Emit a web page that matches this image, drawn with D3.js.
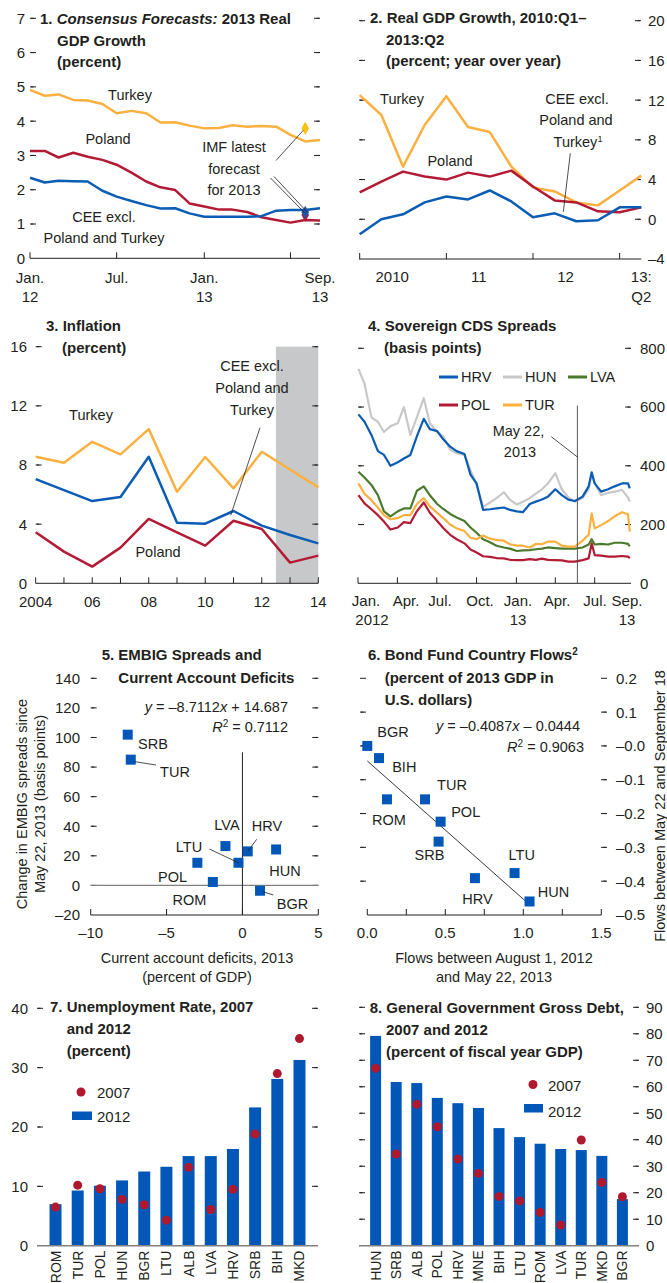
<!DOCTYPE html>
<html><head><meta charset="utf-8">
<script src="https://cdn.jsdelivr.net/npm/d3@7"></script>
<style>
body{margin:0;background:#fff}
text{font-family:"Liberation Sans",Arial,sans-serif;fill:#231f20}
</style></head><body>
<script>
// ================= DATA =================
// Panel 1: Consensus Forecasts, 2013 real GDP growth (percent)
const p1Months = ["2012-01","2012-02","2012-03","2012-04","2012-05","2012-06","2012-07","2012-08","2012-09","2012-10","2012-11","2012-12","2013-01","2013-02","2013-03","2013-04","2013-05","2013-06","2013-07","2013-08","2013-09"];
const p1Turkey = [4.91,4.74,4.78,4.62,4.60,4.50,4.23,4.30,4.23,3.96,3.97,3.87,3.79,3.80,3.88,3.84,3.86,3.84,3.60,3.41,3.45];
const p1Poland = [3.13,3.13,2.94,3.08,2.96,2.87,2.73,2.50,2.24,2.07,1.99,1.60,1.51,1.42,1.42,1.35,1.20,1.12,1.04,1.12,1.10];
const p1CEE    = [2.35,2.21,2.26,2.25,2.24,1.97,1.80,1.67,1.55,1.45,1.46,1.31,1.21,1.21,1.21,1.21,1.23,1.39,1.41,1.41,1.46];
const p1ImfMonth = "2013-08";
const p1ImfSeries = ["Turkey","CEE","Poland"];
const p1ImfValues = [3.79,1.34,1.26];
const p1XTicks = ["2012-01","2012-07","2013-01","2013-07"];
const p1XLabels = [["2012-01","Jan.","12"],["2012-07","Jul.",""],["2013-01","Jan.","13"],["2013-09","Sep.","13"]];

// Panel 2: Real GDP growth, 2010:Q1-2013:Q2 (percent, y/y)
const p2Quarters = ["2010:Q1","2010:Q2","2010:Q3","2010:Q4","2011:Q1","2011:Q2","2011:Q3","2011:Q4","2012:Q1","2012:Q2","2012:Q3","2012:Q4","2013:Q1","2013:Q2"];
const p2Turkey = [12.5,10.5,5.3,9.5,12.4,9.3,8.8,5.3,3.2,2.8,1.7,1.4,2.9,4.4];
const p2Poland = [2.7,3.8,4.8,4.3,4.0,4.7,4.3,4.9,3.3,1.9,1.7,0.8,0.7,1.2];
const p2CEE    = [-1.5,0.0,0.5,1.7,2.3,2.0,2.9,1.8,0.2,0.6,-0.2,-0.1,1.2,1.2];

// Panel 3: Inflation (percent)
const p3Years  = [2004,2005,2006,2007,2008,2009,2010,2011,2012,2013,2014];
const p3Turkey = [8.56,8.15,9.57,8.72,10.43,6.19,8.54,6.42,8.90,7.70,6.49];
const p3CEE    = [7.05,6.30,5.56,5.83,8.56,4.10,4.03,4.89,3.90,3.27,2.70];
const p3Poland = [3.45,2.14,1.13,2.41,4.35,3.45,2.55,4.23,3.67,1.40,1.87];
const p3ProjStart = 2012.5;
const p3XLabels = [[2004,"2004"],[2006,"06"],[2008,"08"],[2010,"10"],[2012,"12"],[2014,"14"]];

// Panel 4: Sovereign CDS spreads (basis points)
const p4Dates = ["2012-01-02","2012-01-16","2012-02-01","2012-02-16","2012-03-01","2012-03-16","2012-04-02","2012-04-16","2012-05-01","2012-05-16","2012-06-01","2012-06-15","2012-07-02","2012-07-16","2012-08-01","2012-08-16","2012-09-03","2012-09-17","2012-10-01","2012-10-16","2012-11-01","2012-11-16","2012-12-03","2012-12-17","2013-01-02","2013-01-16","2013-02-01","2013-02-15","2013-03-01","2013-03-15","2013-04-01","2013-04-16","2013-05-01","2013-05-16","2013-06-03","2013-06-17","2013-06-24","2013-07-01","2013-07-16","2013-08-01","2013-08-16","2013-09-02","2013-09-16","2013-09-20"];
const p4HUN = [730,680,565,550,515,535,545,600,505,565,630,545,515,500,455,443,437,385,335,260,275,290,310,285,268,278,290,305,320,340,375,320,292,278,290,320,372,340,300,308,312,318,292,278];
const p4HRV = [575,550,505,450,437,400,412,425,437,500,560,525,518,490,465,450,440,370,340,250,252,255,258,250,245,242,270,278,285,295,320,300,285,280,295,330,378,340,312,320,330,340,340,323];
const p4LVA = [380,360,335,300,245,228,245,255,255,315,330,300,270,253,236,224,212,190,172,150,140,128,122,118,110,112,113,116,118,122,120,118,118,118,122,132,150,132,134,132,138,138,134,126];
const p4TUR = [340,305,283,258,232,218,222,232,232,270,290,262,240,222,200,187,178,155,150,163,152,148,145,133,128,128,122,134,133,142,142,128,125,125,145,165,238,187,198,212,228,242,235,176];
const p4POL = [300,272,252,232,210,183,190,208,205,245,275,240,212,188,165,150,136,115,105,92,90,86,85,80,79,79,82,80,84,80,79,78,74,74,79,85,136,96,94,91,91,93,91,85];
const p4Event = "2013-05-22";
const p4XTicks = ["2012-01-01","2012-04-01","2012-07-01","2012-10-01","2013-01-01","2013-04-01","2013-07-01"];

// Panel 5: EMBIG spreads vs current account deficits
const p5Countries = ["SRB","TUR","LVA","HRV","HUN","LTU","POL","ROM","BGR"];
const p5CAdeficit = [-7.56,-7.36,-1.12,0.35,2.22,-0.26,-2.97,-1.95,1.16];
const p5EmbigChange = [101.9,85.0,26.6,23.0,24.3,15.3,15.3,2.3,-3.6];

// Panel 6: Bond fund country flows
const p6Countries = ["BGR","BIH","ROM","TUR","POL","SRB","HRV","LTU","HUN"];
const p6FlowsBefore = [0.00,0.075,0.126,0.37,0.47,0.457,0.69,0.944,1.04];
const p6FlowsAfter  = [0.00,-0.036,-0.158,-0.158,-0.224,-0.283,-0.391,-0.376,-0.46];
const p6FitSlope = -0.4087, p6FitIntercept = -0.0444, p6FitRange = [0, 1.05];

// Panel 7: Unemployment rate
const p7Countries = ["ROM","TUR","POL","HUN","BGR","LTU","ALB","LVA","HRV","SRB","BIH","MKD"];
const p7Y2012 = [7.0,9.3,10.1,11.0,12.5,13.3,15.1,15.1,16.3,23.3,28.1,31.3];
const p7Y2007 = [6.5,10.2,9.6,7.8,6.9,4.3,13.2,6.1,9.5,18.8,29.0,34.9];

// Panel 8: General government gross debt
const p8Countries = ["HUN","SRB","ALB","POL","HRV","MNE","BIH","LTU","ROM","LVA","TUR","MKD","BGR"];
const p8Y2012 = [79.2,61.8,61.4,55.8,53.8,52.0,44.4,41.0,38.5,36.5,36.1,33.9,17.6];
const p8Y2007 = [67.0,34.6,53.4,44.9,32.7,27.3,18.6,16.9,12.6,7.8,39.9,23.9,18.5];

// ================= STYLE =================
const C = {text:"#231f20", blue:"#0b5cb5", red:"#b31b34", yellow:"#fbb040", gray:"#c8c8c8",
           green:"#4a7a2c", bar:"#0057b8", dot:"#b0182e", shade:"#c7c8ca", axisGray:"#808080",
           imfYellow:"#f9c20f", imfBlue:"#1f55a6"};
const TICK_FS = 15, LAB_FS = 14.5, TITLE_FS = 15, ROT_FS = 14;

const svg = d3.select("body").append("svg").attr("width",667).attr("height",1283);

// ================= HELPERS =================
function txt(g, x, y, s, o = {}) {
  const t = g.append("text").attr("x", x).attr("y", y).text(s)
    .style("font-size", (o.size || LAB_FS) + "px");
  if (o.anchor) t.attr("text-anchor", o.anchor);
  if (o.weight) t.style("font-weight", o.weight);
  if (o.style) t.style("font-style", o.style);
  if (o.rotate !== undefined) t.attr("transform", `rotate(${o.rotate},${x},${y})`);
  return t;
}
function lines(g, x, y, arr, lh, o = {}) { arr.forEach((s, i) => txt(g, x, y + i * lh, s, o)); }
function title(g, x, indentX, y, parts, lh) {
  parts.forEach((ln, i) => {
    const t = g.append("text").attr("x", i === 0 ? x : indentX).attr("y", y + i * lh)
      .style("font-size", TITLE_FS + "px").style("font-weight", "bold");
    const segs = typeof ln === "string" ? [[ln]] : ln;
    segs.forEach(sg => {
      const ts = t.append("tspan").text(sg[0]);
      if (sg[1] === "i") ts.style("font-style", "italic");
      if (sg[1] === "sup") ts.attr("baseline-shift", "super").style("font-size", "10px");
    });
  });
}
function vTicks(g, y, x, dir, majors, minors) {
  g.append("g").selectAll("line").data(majors).join("line")
    .attr("x1", x).attr("x2", x + dir * 6).attr("y1", d => y(d)).attr("y2", d => y(d))
    .attr("stroke", C.text).attr("stroke-width", 1);
  g.append("g").selectAll("line").data(minors).join("line")
    .attr("x1", x + dir * 1).attr("x2", x + dir * 3.5).attr("y1", d => y(d)).attr("y2", d => y(d))
    .attr("stroke", C.text).attr("stroke-width", 1);
}
function vLabels(g, y, x, anchor, vals, fmt) {
  g.append("g").selectAll("text").data(vals).join("text")
    .attr("x", x).attr("y", d => y(d)).attr("dy", "0.36em").attr("text-anchor", anchor)
    .style("font-size", TICK_FS + "px").text(fmt);
}
function hAxis(g, x0, x1, yv, ticksX, color = C.text, w = 1) {
  g.append("line").attr("x1", x0).attr("x2", x1).attr("y1", yv).attr("y2", yv)
    .attr("stroke", color).attr("stroke-width", w);
  g.append("g").selectAll("line").data(ticksX).join("line")
    .attr("x1", d => d).attr("x2", d => d).attr("y1", yv).attr("y2", yv - 6)
    .attr("stroke", color).attr("stroke-width", 1);
}
function leader(g, x1, y1, x2, y2) {
  g.append("line").attr("x1", x1).attr("y1", y1).attr("x2", x2).attr("y2", y2)
    .attr("stroke", C.text).attr("stroke-width", 0.8);
}
function path(g, data, x, y, color, w = 2.5) {
  g.append("path").datum(data).attr("fill", "none").attr("stroke", color)
    .attr("stroke-width", w).attr("stroke-linejoin", "round")
    .attr("d", d3.line().x(d => x(d[0])).y(d => y(d[1])));
}
const rng = (a, b, s) => d3.range(Math.round(a / s), Math.round(b / s) + 1).map(i => +(i * s).toFixed(6));
const dash = v => (v < 0 ? "\u2013" + Math.abs(v) : String(v));

// ================= PANEL 1 =================
{
  const g = svg.append("g");
  const pm = d3.timeParse("%Y-%m");
  const x = d3.scaleTime().domain([pm("2012-01"), pm("2013-09")]).range([30, 320]);
  const y = d3.scaleLinear().domain([0, 7]).range([258.3, 18.3]);
  vTicks(g, y, 30, 1, rng(1, 7, 1), rng(0.5, 6.5, 1));
  vTicks(g, y, 320, -1, rng(1, 7, 1), rng(0.5, 6.5, 1));
  vLabels(g, y, 25, "end", rng(0, 7, 1), d => d);
  hAxis(g, 30, 320, y(0), p1XTicks.map(d => x(pm(d))));
  p1XLabels.forEach(l => {
    txt(g, x(pm(l[0])), 283, l[1], {anchor: "middle", size: TICK_FS});
    if (l[2]) txt(g, x(pm(l[0])), 302, l[2], {anchor: "middle", size: TICK_FS});
  });
  path(g, p1Months.map((m, i) => [pm(m), p1Turkey[i]]), x, y, C.yellow);
  path(g, p1Months.map((m, i) => [pm(m), p1Poland[i]]), x, y, C.red);
  path(g, p1Months.map((m, i) => [pm(m), p1CEE[i]]), x, y, C.blue);
  const imfCol = {Turkey: C.imfYellow, CEE: C.imfBlue, Poland: C.red};
  [2, 1, 0].forEach(i => {
    g.append("path").attr("d", d3.symbol(d3.symbolDiamond, 50)())
      .attr("transform", `translate(${x(pm(p1ImfMonth))},${y(p1ImfValues[i])})`)
      .attr("fill", imfCol[p1ImfSeries[i]]);
  });
  const xi = x(pm(p1ImfMonth));
  leader(g, 276, 160.5, xi - 2, y(p1ImfValues[0]) + 2);
  leader(g, 270.5, 178, xi - 1, y(p1ImfValues[1]) + 0);
  leader(g, 274, 176.5, xi + 2, y(p1ImfValues[2]) - 3);
  title(g, 40, 57, 24, [[["1. "], ["Consensus Forecasts:", "i"], [" 2013 Real"]], "GDP Growth", "(percent)"], 21.5);
  txt(g, 130, 100, "Turkey", {anchor: "middle"});
  txt(g, 108, 144, "Poland", {anchor: "middle"});
  lines(g, 234, 152, ["IMF latest", "forecast", "for 2013"], 21.5, {anchor: "middle"});
  lines(g, 104, 222, ["CEE excl.", "Poland and Turkey"], 21, {anchor: "middle"});
}

// ================= PANEL 2 =================
{
  const g = svg.append("g");
  const x = d3.scaleLinear().domain([0, 13]).range([359.7, 641.3]);
  const y = d3.scaleLinear().domain([-4, 20]).range([259, 20.7]);
  vTicks(g, y, 359, 1, rng(0, 20, 4), rng(-2, 18, 4));
  vTicks(g, y, 641, -1, rng(0, 20, 4), rng(-2, 18, 4));
  vLabels(g, y, 648, "start", rng(-4, 20, 4), dash);
  hAxis(g, 359, 641.3, y(-4), [0, 4, 8, 12].map(x));
  [[1.5, "2010"], [5.5, "11"], [9.5, "12"]].forEach(l => txt(g, x(l[0]), 282, l[1], {anchor: "middle", size: TICK_FS}));
  txt(g, x(13), 282, "13:", {anchor: "middle", size: TICK_FS});
  txt(g, x(13), 302, "Q2", {anchor: "middle", size: TICK_FS});
  path(g, p2Quarters.map((q, i) => [i, p2Turkey[i]]), x, y, C.yellow);
  path(g, p2Quarters.map((q, i) => [i, p2Poland[i]]), x, y, C.red);
  path(g, p2Quarters.map((q, i) => [i, p2CEE[i]]), x, y, C.blue);
  title(g, 370, 386, 23, ["2. Real GDP Growth, 2010:Q1\u2013", "2013:Q2", "(percent; year over year)"], 21.5);
  txt(g, 402, 104, "Turkey", {anchor: "middle"});
  txt(g, 450, 166, "Poland", {anchor: "middle"});
  txt(g, 577, 104, "CEE excl.", {anchor: "middle"});
  txt(g, 576, 125, "Poland and", {anchor: "middle"});
  const t = txt(g, 578, 147, "Turkey", {anchor: "middle"});
  t.append("tspan").text("1").attr("baseline-shift", "super").style("font-size", "9px");
  leader(g, 570.3, 153.3, x(9.4), y(0.75));
}

// ================= PANEL 3 =================
{
  const g = svg.append("g");
  const x = d3.scaleLinear().domain([2004, 2014]).range([35.7, 318.3]);
  const y = d3.scaleLinear().domain([0, 16]).range([583.3, 346.7]);
  g.append("rect").attr("x", x(p3ProjStart)).attr("y", y(16))
    .attr("width", x(2014) - x(p3ProjStart)).attr("height", y(0) - y(16)).attr("fill", C.shade);
  vTicks(g, y, 35.7, 1, rng(4, 16, 4), rng(2, 14, 4));
  vTicks(g, y, 318.3, -1, rng(4, 16, 4), rng(2, 14, 4));
  vLabels(g, y, 27, "end", rng(0, 16, 4), d => d);
  hAxis(g, 35.7, 318.3, y(0), p3Years.map(x));
  p3XLabels.forEach(l => txt(g, x(l[0]), 607, l[1], {anchor: "middle", size: TICK_FS}));
  path(g, p3Years.map((d, i) => [d, p3Turkey[i]]), x, y, C.yellow);
  path(g, p3Years.map((d, i) => [d, p3CEE[i]]), x, y, C.blue);
  path(g, p3Years.map((d, i) => [d, p3Poland[i]]), x, y, C.red);
  title(g, 46, 62, 331, ["3. Inflation", "(percent)"], 22);
  txt(g, 91, 420, "Turkey", {anchor: "middle"});
  txt(g, 158, 557, "Poland", {anchor: "middle"});
  lines(g, 252, 371, ["CEE excl.", "Poland and", "Turkey"], 22, {anchor: "middle"});
  leader(g, 260, 427.7, x(2010.9), y(4.6));
}

// ================= PANEL 4 =================
{
  const g = svg.append("g");
  const pd = d3.timeParse("%Y-%m-%d");
  const x = d3.scaleTime().domain([pd("2012-01-01"), pd("2013-07-01")]).range([358, 594.7]);
  const y = d3.scaleLinear().domain([0, 800]).range([583.3, 348.3]);
  const xEnd = 631;
  vTicks(g, y, 358, 1, rng(200, 800, 200), rng(100, 700, 200));
  vTicks(g, y, xEnd, -1, rng(200, 800, 200), rng(100, 700, 200));
  vLabels(g, y, 640, "start", rng(0, 800, 200), d => d);
  hAxis(g, 358, xEnd, y(0), p4XTicks.map(d => x(pd(d))));
  const xl = [[366, "Jan.", "2012"], [406, "Apr.", ""], [440, "Jul.", ""], [480, "Oct.", ""], [518, "Jan.", "13"], [557, "Apr.", ""], [595, "Jul.", ""], [627, "Sep.", "13"]];
  xl.forEach(l => {
    txt(g, l[0], 606, l[1], {anchor: "middle", size: TICK_FS});
    if (l[2]) txt(g, l[0] + (l[2] === "2012" ? 6 : 0), 625, l[2], {anchor: "middle", size: TICK_FS});
  });
  const ser = [[p4HUN, C.gray], [p4HRV, C.blue], [p4LVA, C.green], [p4TUR, C.yellow], [p4POL, C.red]];
  ser.forEach(s => path(g, p4Dates.map((d, i) => [pd(d), s[0][i]]), x, y, s[1], 2.2));
  const ex = x(pd(p4Event));
  g.append("line").attr("x1", ex).attr("x2", ex).attr("y1", y(605)).attr("y2", y(0))
    .attr("stroke", "#555").attr("stroke-width", 1);
  title(g, 368, 384, 331, ["4. Sovereign CDS Spreads", "(basis points)"], 22);
  const leg = [["HRV", C.blue, 439, 377], ["HUN", C.gray, 503, 377], ["LVA", C.green, 568, 377], ["POL", C.red, 439, 405], ["TUR", C.yellow, 503, 405]];
  leg.forEach(l => {
    g.append("line").attr("x1", l[2]).attr("x2", l[2] + 19).attr("y1", l[3]).attr("y2", l[3])
      .attr("stroke", l[1]).attr("stroke-width", 3);
    txt(g, l[2] + 22, l[3] + 5.3, l[0]);
  });
  txt(g, 518.5, 435.7, "May 22,", {anchor: "middle"});
  txt(g, 520, 457, "2013", {anchor: "middle"});
  leader(g, 551.3, 436.7, ex, 457);
}

// ================= PANEL 5 =================
{
  const g = svg.append("g");
  const x = d3.scaleLinear().domain([-10, 5]).range([90.7, 318.3]);
  const y = d3.scaleLinear().domain([-20, 140]).range([915, 678.3]);
  vTicks(g, y, 90.7, 1, rng(0, 140, 20), rng(-10, 130, 20));
  vTicks(g, y, 318.3, -1, rng(0, 140, 20), rng(-10, 130, 20));
  vLabels(g, y, 80, "end", rng(-20, 140, 20), dash);
  g.append("line").attr("x1", x(-10)).attr("x2", x(5)).attr("y1", y(0)).attr("y2", y(0))
    .attr("stroke", C.axisGray).attr("stroke-width", 1.2);
  g.append("line").attr("x1", x(0)).attr("x2", x(0)).attr("y1", y(90)).attr("y2", y(-20))
    .attr("stroke", C.text).attr("stroke-width", 1);
  hAxis(g, x(-10), x(5), y(-20), rng(-10, 5, 5).map(x));
  rng(-10, 5, 5).forEach(v => txt(g, x(v), 938, dash(v), {anchor: "middle", size: TICK_FS}));
  lines(g, 197, 963, ["Current account deficits, 2013", "(percent of GDP)"], 19, {anchor: "middle"});
  txt(g, 27, 804, "Change in EMBIG spreads since", {anchor: "middle", rotate: -90});
  txt(g, 45, 804, "May 22, 2013 (basis points)", {anchor: "middle", rotate: -90});
  g.append("g").selectAll("rect").data(p5Countries).join("rect")
    .attr("x", (d, i) => x(p5CAdeficit[i]) - 5).attr("y", (d, i) => y(p5EmbigChange[i]) - 5)
    .attr("width", 10).attr("height", 10).attr("fill", C.bar);
  title(g, 101.7, 118.3, 660, ["5. EMBIG Spreads and", "Current Account Deficits"], 22.7);
  const eq = g.append("text").attr("x", 288).attr("y", 711.7).attr("text-anchor", "end").style("font-size", LAB_FS + "px");
  eq.append("tspan").text("y").style("font-style", "italic");
  eq.append("tspan").text(" = \u20138.7112");
  eq.append("tspan").text("x").style("font-style", "italic");
  eq.append("tspan").text(" + 14.687");
  const r2 = g.append("text").attr("x", 288).attr("y", 731.7).attr("text-anchor", "end").style("font-size", LAB_FS + "px");
  r2.append("tspan").text("R").style("font-style", "italic");
  r2.append("tspan").text("2").attr("baseline-shift", "super").style("font-size", "10px");
  r2.append("tspan").text(" = 0.7112");
  const labs = {SRB: [153, 749], TUR: [175, 776.7], LVA: [227, 830], HRV: [267, 831], HUN: [285, 876], LTU: [189, 851.7], POL: [172.5, 881.7], ROM: [189.5, 905], BGR: [292.5, 909.3]};
  Object.entries(labs).forEach(([k, v]) => txt(g, v[0], v[1], k, {anchor: "middle"}));
  const pt = c => { const i = p5Countries.indexOf(c); return [x(p5CAdeficit[i]), y(p5EmbigChange[i])]; };
  leader(g, pt("TUR")[0] + 4, pt("TUR")[1] + 2, 156, 765);
  leader(g, 256.7, 839.3, pt("HRV")[0], pt("HRV")[1]);
  leader(g, 209.3, 849, pt("LTU")[0], pt("LTU")[1]);
  leader(g, pt("BGR")[0] + 3, pt("BGR")[1] + 1, 273.3, 895);
}

// ================= PANEL 6 =================
{
  const g = svg.append("g");
  const x = d3.scaleLinear().domain([0, 1.5]).range([367.3, 601.3]);
  const y = d3.scaleLinear().domain([-0.5, 0.2]).range([915, 678.3]);
  vTicks(g, y, 360, 1, rng(-0.4, 0.2, 0.1), rng(-0.45, 0.15, 0.1));
  vTicks(g, y, 607, -1, rng(-0.4, 0.2, 0.1), rng(-0.45, 0.15, 0.1));
  vLabels(g, y, 616, "start", rng(-0.5, 0.2, 0.1), d => (d <= 0 ? "\u2013" + Math.abs(d).toFixed(1) : d.toFixed(1)));
  hAxis(g, x(0), x(1.5), y(-0.5), rng(0, 1.5, 0.25).map(x));
  rng(0, 1.5, 0.5).forEach(v => txt(g, x(v), 938, v.toFixed(1), {anchor: "middle", size: TICK_FS}));
  lines(g, 494, 963, ["Flows between August 1, 2012", "and May 22, 2013"], 19, {anchor: "middle"});
  txt(g, 665, 806, "Flows between May 22 and September 18", {anchor: "middle", rotate: -90});
  g.append("line")
    .attr("x1", x(p6FitRange[0])).attr("y1", y(p6FitSlope * p6FitRange[0] + p6FitIntercept))
    .attr("x2", x(p6FitRange[1])).attr("y2", y(p6FitSlope * p6FitRange[1] + p6FitIntercept))
    .attr("stroke", C.text).attr("stroke-width", 0.9);
  g.append("g").selectAll("rect").data(p6Countries).join("rect")
    .attr("x", (d, i) => x(p6FlowsBefore[i]) - 5).attr("y", (d, i) => y(p6FlowsAfter[i]) - 5)
    .attr("width", 10).attr("height", 10).attr("fill", C.bar);
  title(g, 368, 384.7, 660, [[["6. Bond Fund Country Flows"], ["2", "sup"]], "(percent of 2013 GDP in", "U.S. dollars)"], 22.5);
  const eq = g.append("text").attr("x", 580).attr("y", 731).attr("text-anchor", "end").style("font-size", LAB_FS + "px");
  eq.append("tspan").text("y").style("font-style", "italic");
  eq.append("tspan").text(" = \u20130.4087");
  eq.append("tspan").text("x").style("font-style", "italic");
  eq.append("tspan").text(" \u2013 0.0444");
  const r2 = g.append("text").attr("x", 584).attr("y", 751.7).attr("text-anchor", "end").style("font-size", LAB_FS + "px");
  r2.append("tspan").text("R").style("font-style", "italic");
  r2.append("tspan").text("2").attr("baseline-shift", "super").style("font-size", "10px");
  r2.append("tspan").text(" = 0.9063");
  const labs = {BGR: [393, 737.3], BIH: [404.3, 771.7], TUR: [452, 790], POL: [465.7, 816.7], ROM: [389, 825], SRB: [429.5, 860], LTU: [521.7, 860], HRV: [477.5, 904.3], HUN: [553.5, 896.7]};
  Object.entries(labs).forEach(([k, v]) => txt(g, v[0], v[1], k, {anchor: "middle"}));
}

// ================= PANEL 7 =================
{
  const g = svg.append("g");
  const x = d3.scaleBand().domain(p7Countries).range([37, 318]).paddingInner(0.46).paddingOuter(0.565);
  const y = d3.scaleLinear().domain([0, 40]).range([1245.7, 1008.3]);
  vTicks(g, y, 37, 1, rng(10, 40, 10), rng(5, 35, 10));
  vTicks(g, y, 318, -1, rng(10, 40, 10), rng(5, 35, 10));
  vLabels(g, y, 28, "end", rng(0, 40, 10), d => d);
  g.append("g").selectAll("rect").data(p7Countries).join("rect")
    .attr("x", d => x(d)).attr("width", x.bandwidth())
    .attr("y", (d, i) => y(p7Y2012[i])).attr("height", (d, i) => y(0) - y(p7Y2012[i]))
    .attr("fill", C.bar);
  g.append("line").attr("x1", 37).attr("x2", 318).attr("y1", y(0)).attr("y2", y(0))
    .attr("stroke", C.axisGray).attr("stroke-width", 1.5);
  g.append("g").selectAll("circle").data(p7Countries).join("circle")
    .attr("cx", d => x(d) + x.bandwidth() / 2).attr("cy", (d, i) => y(p7Y2007[i])).attr("r", 4.5)
    .attr("fill", C.dot);
  p7Countries.forEach(c => txt(g, x(c) + x.bandwidth() / 2 + 5, 1250.5, c, {anchor: "end", size: ROT_FS, rotate: -90}));
  title(g, 50, 66.7, 1011.7, ["7. Unemployment Rate, 2007", "and 2012", "(percent)"], 22);
  g.append("circle").attr("cx", 81).attr("cy", 1092).attr("r", 4.5).attr("fill", C.dot);
  txt(g, 97, 1098, "2007", {size: TICK_FS});
  g.append("rect").attr("x", 72).attr("y", 1111.5).attr("width", 20).attr("height", 8.5).attr("fill", C.bar);
  txt(g, 97, 1121.5, "2012", {size: TICK_FS});
}

// ================= PANEL 8 =================
{
  const g = svg.append("g");
  const x = d3.scaleBand().domain(p8Countries).range([359, 639]).paddingInner(0.465).paddingOuter(0.54);
  const y = d3.scaleLinear().domain([0, 90]).range([1245.7, 1007.3]);
  vTicks(g, y, 359, 1, rng(10, 90, 10), rng(5, 85, 10));
  vTicks(g, y, 639, -1, rng(10, 90, 10), rng(5, 85, 10));
  vLabels(g, y, 646, "start", rng(0, 90, 10), d => d);
  g.append("g").selectAll("rect").data(p8Countries).join("rect")
    .attr("x", d => x(d)).attr("width", x.bandwidth())
    .attr("y", (d, i) => y(p8Y2012[i])).attr("height", (d, i) => y(0) - y(p8Y2012[i]))
    .attr("fill", C.bar);
  g.append("line").attr("x1", 359).attr("x2", 639).attr("y1", y(0)).attr("y2", y(0))
    .attr("stroke", C.axisGray).attr("stroke-width", 1.5);
  g.append("g").selectAll("circle").data(p8Countries).join("circle")
    .attr("cx", d => x(d) + x.bandwidth() / 2).attr("cy", (d, i) => y(p8Y2007[i])).attr("r", 4.5)
    .attr("fill", C.dot);
  p8Countries.forEach(c => txt(g, x(c) + x.bandwidth() / 2 + 5, 1250.5, c, {anchor: "end", size: ROT_FS, rotate: -90}));
  title(g, 369.7, 386, 1013, ["8. General Government Gross Debt,", "2007 and 2012", "(percent of fiscal year GDP)"], 22);
  g.append("circle").attr("cx", 533).attr("cy", 1084.5).attr("r", 4.5).attr("fill", C.dot);
  txt(g, 548, 1091, "2007", {size: TICK_FS});
  g.append("rect").attr("x", 524).attr("y", 1104).attr("width", 19).attr("height", 8.5).attr("fill", C.bar);
  txt(g, 548, 1116.5, "2012", {size: TICK_FS});
}
</script>
</body></html>
